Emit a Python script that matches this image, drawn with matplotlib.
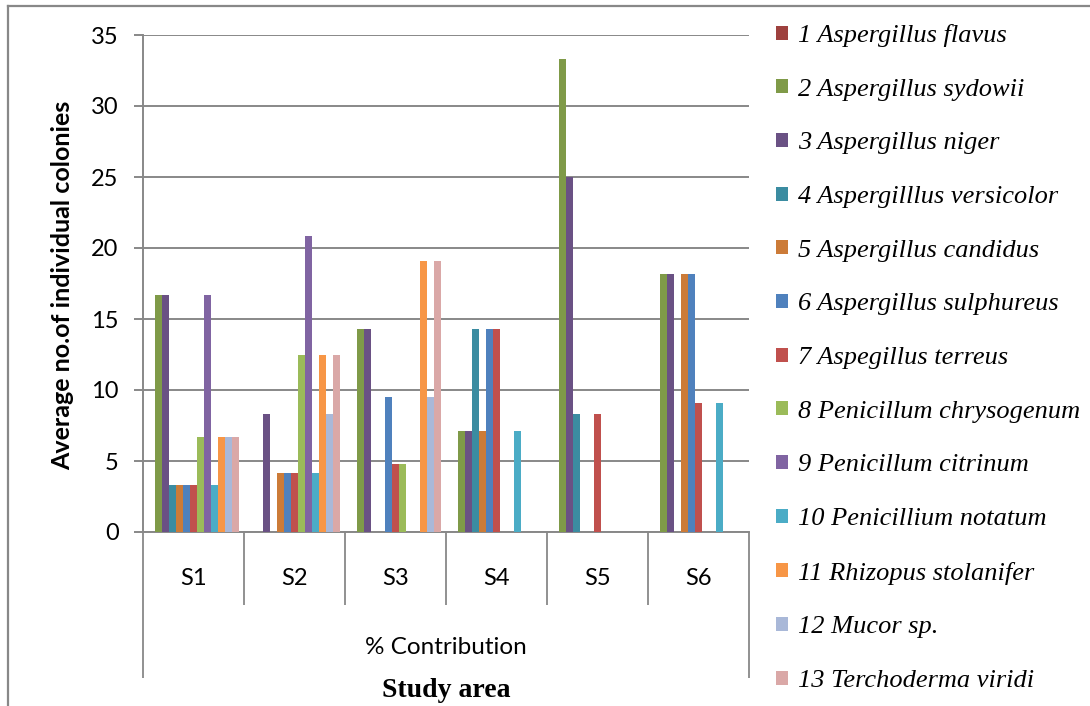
import matplotlib
matplotlib.use("Agg")
import matplotlib.pyplot as plt
from matplotlib.lines import Line2D
from matplotlib import font_manager as fm
import numpy as np

# Study areas (categories on the x axis)
areas = ["S1", "S2", "S3", "S4", "S5", "S6"]

# Average number of individual colonies per species, one list per species
flavus      = [0, 0, 0, 0, 0, 0]
sydowii     = [16.67, 0, 14.29, 7.14, 33.33, 18.18]
niger       = [16.67, 8.33, 14.29, 7.14, 25.0, 18.18]
versicolor  = [3.33, 0, 0, 14.29, 8.33, 0]
candidus    = [3.33, 4.17, 0, 7.14, 0, 18.18]
sulphureus  = [3.33, 4.17, 9.52, 14.29, 0, 18.18]
terreus     = [3.33, 4.17, 4.76, 14.29, 8.33, 9.09]
chrysogenum = [6.67, 12.5, 4.76, 0, 0, 0]
citrinum    = [16.67, 20.83, 0, 0, 0, 0]
notatum     = [3.33, 4.17, 0, 7.14, 0, 9.09]
stolanifer  = [6.67, 12.5, 19.05, 0, 0, 0]
mucor       = [6.67, 8.33, 9.52, 0, 0, 0]
viridi      = [6.67, 12.5, 19.05, 0, 0, 0]

species_labels = [
    "1 Aspergillus flavus", "2 Aspergillus sydowii", "3 Aspergillus niger",
    "4 Aspergilllus versicolor", "5 Aspergillus candidus",
    "6 Aspergillus sulphureus", "7 Aspegillus terreus",
    "8 Penicillum chrysogenum", "9 Penicillum citrinum",
    "10 Penicillium notatum", "11 Rhizopus stolanifer", "12 Mucor sp.",
    "13 Terchoderma viridi",
]
series = [flavus, sydowii, niger, versicolor, candidus, sulphureus, terreus,
          chrysogenum, citrinum, notatum, stolanifer, mucor, viridi]
colors = ["#9E413E", "#7F9A48", "#6A5184", "#3B8CA1", "#CC7B38", "#4F81BD",
          "#C0504D", "#9BBB59", "#8064A2", "#4BACC6", "#F79646", "#A9B8D8",
          "#DAA8A7"]

yticks = [0, 5, 10, 15, 20, 25, 30, 35]


def serif_italic(size):
    """Pick an installed Times-like italic face (STIX ships with matplotlib)."""
    for fam in ("Liberation Serif", "STIXGeneral", "DejaVu Serif"):
        for f in fm.fontManager.ttflist:
            if f.name == fam and f.style == "italic" and f.weight in (400, "normal", "regular", "book"):
                return fm.FontProperties(fname=f.fname, size=size)
    return fm.FontProperties(family="STIXGeneral", style="italic", size=size)


W, H = 1090, 706
fig = plt.figure(figsize=(W / 100, H / 100), dpi=100)
ax = fig.add_axes([143 / W, (H - 532) / H, (749 - 143) / W, (532 - 35) / H])

grey = "#888888"
n = len(series)
bw = 0.069
x = np.arange(len(areas))
handles = []
for i, (vals, col) in enumerate(zip(series, colors)):
    offs = (i - (n - 1) / 2) * bw
    b = ax.bar(x + offs, vals, width=bw, color=col, linewidth=0, zorder=3)
    handles.append(b)

ax.set_xlim(-0.5, len(areas) - 0.5)
ax.set_ylim(0, 35)
ax.set_yticks(yticks)
ax.yaxis.grid(True, color=grey, linewidth=1.4, zorder=0)
ax.set_axisbelow(True)
for s in ("top", "right"):
    ax.spines[s].set_visible(False)
for s in ("left", "bottom"):
    ax.spines[s].set_color(grey)
    ax.spines[s].set_linewidth(1.4)
ax.tick_params(axis="y", direction="out", length=6.5, width=1.4, color=grey,
               pad=11, labelsize=17)
for lab in ax.get_yticklabels():
    lab.set_fontfamily("Lato")
ax.set_xticks([])

# Two-level category axis: area labels and separators, outer group label
xt = ax.get_xaxis_transform()
inner = np.arange(1, len(areas)) - 0.5
ax.vlines(inner, -0.147, 0, transform=xt, colors=grey, linewidth=1.3,
          clip_on=False)
ax.vlines([-0.5, len(areas) - 0.5], -0.294, 0, transform=xt, colors=grey,
          linewidth=1.3, clip_on=False)
for xi, name in zip(x, areas):
    ax.text(xi, -0.0926, name, transform=xt, ha="center", va="center",
            fontsize=17, fontfamily="Lato")
ax.text((len(areas) - 1) / 2, -0.233, "% Contribution", transform=xt,
        ha="center", va="center", fontsize=17.5, fontfamily="Lato")
ax.text((len(areas) - 1) / 2, -0.318, "Study area", transform=xt,
        ha="center", va="center", fontsize=20, fontweight="bold",
        fontfamily="Liberation Serif")

fig.text(63 / W, (H - 285) / H, "Average no.of individual colonies",
         rotation=90, ha="center", va="center", fontsize=18,
         fontweight="bold", fontfamily="Lato")

leg = fig.legend(handles, species_labels, loc="upper left",
                 bbox_to_anchor=(776 / W, (H - 24) / H), frameon=False,
                 handlelength=0.45, handleheight=0.45, handletextpad=0.4,
                 labelspacing=1.2, borderpad=0, borderaxespad=0,
                 prop=serif_italic(19))

# Outer chart frame (top and left edges)
fig.add_artist(Line2D([8 / W, 8 / W], [0, (H - 6) / H], color=grey,
                      linewidth=1.6, transform=fig.transFigure))
fig.add_artist(Line2D([8 / W, 1], [(H - 6) / H, (H - 6) / H], color=grey,
                      linewidth=1.6, transform=fig.transFigure))

fig.savefig("out.png", dpi=100)
